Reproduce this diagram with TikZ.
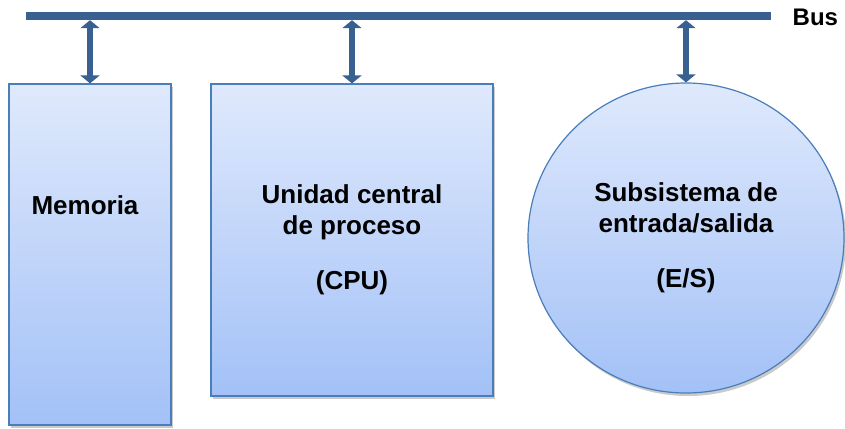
\documentclass[tikz,border=0pt]{standalone}
\usepackage{fontspec}
\setmainfont{Liberation Sans}
\usepackage{xcolor}
\usepackage{tikz}
\usetikzlibrary{positioning,calc,arrows.meta,shadows}
\definecolor{BusBlue}{RGB}{56,96,145}
\definecolor{EdgeBlue}{RGB}{74,126,187}
\definecolor{FillTop}{RGB}{223,233,252}
\definecolor{FillBot}{RGB}{163,193,247}
\tikzset{
    unitbox/.style={rectangle, draw=EdgeBlue, line width=1.2pt,
        top color=FillTop, bottom color=FillBot,
        drop shadow={shadow xshift=2pt, shadow yshift=-3pt, opacity=0.35, fill=black!60},
        align=center, font=\fontsize{26}{31}\selectfont\bfseries},
    unitcircle/.style={unitbox, ellipse},
    busline/.style={rectangle, fill=BusBlue, inner sep=0pt, minimum height=8pt},
    buslink/.style={draw=BusBlue, line width=6.5pt,
        {Triangle[width=19pt,length=8pt]}-{Triangle[width=19pt,length=8pt]}}
}
\usetikzlibrary{shapes.geometric}
\begin{document}
\begin{tikzpicture}[x=1pt, y=-1pt]
    % --- marco del dibujo ---
    \useasboundingbox (0,0) rectangle (845,428);

    % --- EL BUS ---
    \node[busline, minimum width=745pt] (bus) at (398.5,16) {};
    \node[anchor=west, font=\fontsize{24}{28}\selectfont\bfseries] (buslabel)
        at ([xshift=18pt, yshift=-1pt]bus.east) {Bus};

    % --- LAS UNIDADES ---
    % Memoria (texto mas arriba del centro)
    \node[unitbox, minimum width=162pt, minimum height=341pt] (mem) at (90,254.5) {};
    \node[font=\fontsize{26}{31}\selectfont\bfseries] (memtext) at (85,205) {Memoria};
    % CPU
    \node[unitbox, minimum width=282pt, minimum height=312pt] (cpu) at (352,240)
        {Unidad central\\de proceso\\[24pt](CPU)};
    % Entrada/salida
    \node[unitcircle, minimum width=316pt, minimum height=310pt, inner sep=0pt] (es) at (686,238)
        {Subsistema de\\entrada/salida\\[24pt](E/S)};

    % --- CONEXIONES AL BUS ---
    \draw[buslink] (bus.south -| mem.north) -- (mem.north);
    \draw[buslink] (bus.south -| cpu.north) -- (cpu.north);
    \draw[buslink] (bus.south -| es.north) -- (es.north);
\end{tikzpicture}
\end{document}
